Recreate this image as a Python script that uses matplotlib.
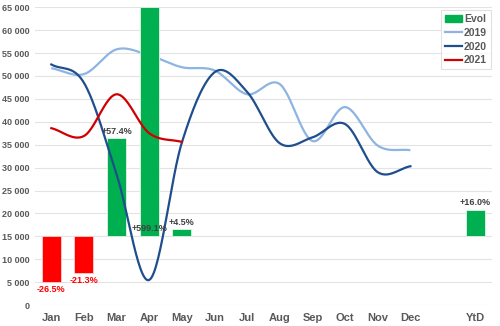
import numpy as np
import matplotlib
matplotlib.use('Agg')
import matplotlib.pyplot as plt
from matplotlib.patches import Patch
from matplotlib.lines import Line2D

plt.rcParams['font.family'] = ['Liberation Sans', 'DejaVu Sans']

# categories (blank slot between Dec and YtD)
months = ['Jan', 'Feb', 'Mar', 'Apr', 'May', 'Jun', 'Jul', 'Aug', 'Sep', 'Oct', 'Nov', 'Dec', '', 'YtD']

y2019 = [51700, 50400, 55800, 54500, 51900, 51200, 46000, 48200, 35800, 43200, 34800, 33800]
y2020 = [52500, 48500, 28500, 5500, 35500, 50800, 46500, 35300, 36600, 39500, 29000, 30300]
y2021 = [38600, 36900, 46000, 37500, 35600]

# floating bars: base and end value, plus the evolution label
evol_base = 15000
evol_idx = [0, 1, 2, 3, 4, 13]
evol_end = [5000, 7100, 36400, 65000, 16600, 20800]
evol_pct = [-26.5, -21.3, 57.4, 599.1, 4.5, 16.0]


def smooth(ys, n=30):
    # catmull-rom curve through the points, similar to excel smoothed lines
    xs = np.arange(len(ys), dtype=float)
    ys = np.asarray(ys, dtype=float)
    px = np.concatenate([[2 * xs[0] - xs[1]], xs, [2 * xs[-1] - xs[-2]]])
    py = np.concatenate([[2 * ys[0] - ys[1]], ys, [2 * ys[-1] - ys[-2]]])
    outx, outy = [], []
    t = np.linspace(0, 1, n)
    for i in range(1, len(px) - 2):
        p0, p1, p2, p3 = py[i - 1], py[i], py[i + 1], py[i + 2]
        q0, q1, q2, q3 = px[i - 1], px[i], px[i + 1], px[i + 2]
        f = lambda a, b, c, d: 0.5 * ((2 * b) + (-a + c) * t + (2 * a - 5 * b + 4 * c - d) * t ** 2 + (-a + 3 * b - 3 * c + d) * t ** 3)
        outx.extend(f(q0, q1, q2, q3))
        outy.extend(f(p0, p1, p2, p3))
    return np.array(outx), np.array(outy)


fig = plt.figure(figsize=(5, 3.26), dpi=100)
ax = fig.add_axes([0.07, 0.064, 0.914, 0.914])

c19 = '#8DB4E2'
c20 = '#1F4E8C'
c21 = '#D00000'
green = '#00B050'
red = '#FF0000'
txt = '#595959'

x, y = smooth(y2019)
ax.plot(x, y, color=c19, lw=1.6, zorder=2, solid_capstyle='butt')

for i, end, p in zip(evol_idx, evol_end, evol_pct):
    col = green if p >= 0 else red
    ax.bar(i, end - evol_base, bottom=evol_base, width=0.58, color=col,
           edgecolor='#E6F2E6' if p >= 0 else '#FFD0D0', linewidth=0.6, zorder=3)
    lab = '%+.1f%%' % p
    if p < 0:
        ax.text(i, end - 700, lab, ha='center', va='top', color=red,
                fontsize=6.5, fontweight='bold', zorder=5)
    elif end >= 65000:
        ax.text(i, evol_base + 800, lab, ha='center', va='bottom', color='#404040',
                fontsize=6.5, fontweight='bold', zorder=5)
    else:
        ax.text(i, end + 500, lab, ha='center', va='bottom', color='#404040',
                fontsize=6.5, fontweight='bold', zorder=5)

x, y = smooth(y2020)
ax.plot(x, y, color=c20, lw=1.6, zorder=4)
x, y = smooth(y2021)
ax.plot(x, y, color=c21, lw=1.6, zorder=4)

ax.set_xlim(-0.5, len(months) - 0.5)
ax.set_ylim(0, 65000)
ax.set_xticks(range(len(months)))
ax.set_xticklabels(months)
ax.set_yticks(range(0, 65001, 5000))
ax.set_yticklabels(['{:,}'.format(v).replace(',', ' ') for v in range(0, 65001, 5000)])
ax.tick_params(axis='both', length=0, labelcolor=txt)
ax.tick_params(axis='x', labelsize=8, pad=6)
ax.tick_params(axis='y', labelsize=6.5, pad=4)
for l in ax.get_xticklabels() + ax.get_yticklabels():
    l.set_fontweight('bold')
ax.grid(axis='y', color='#E3E3E3', lw=0.8, zorder=0)
ax.set_axisbelow(True)
for s in ax.spines.values():
    s.set_visible(False)

handles = [Patch(color=green, label='Evol'),
           Line2D([], [], color=c19, lw=1.6, label='2019'),
           Line2D([], [], color=c20, lw=1.6, label='2020'),
           Line2D([], [], color=c21, lw=1.6, label='2021')]
leg = ax.legend(handles=handles, loc='upper right', fontsize=7.5, frameon=True, fancybox=False,
                handlelength=1.6, handletextpad=0.2, borderpad=0.4, labelspacing=0.35,
                borderaxespad=0, bbox_to_anchor=(0.998, 0.99))
leg.get_frame().set_edgecolor('#D9D9D9')
leg.get_frame().set_linewidth(0.8)
for t in leg.get_texts():
    t.set_color(txt)
    t.set_fontweight('bold')

fig.savefig('out.png', dpi=100)
